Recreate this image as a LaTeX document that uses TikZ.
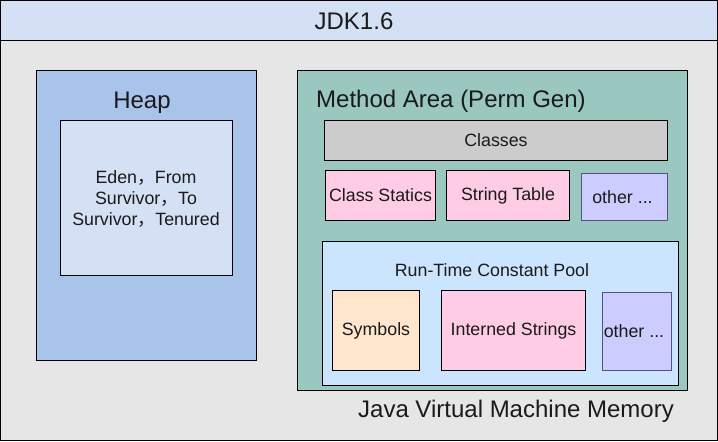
\documentclass[tikz,border=0pt]{standalone}
\usepackage{fontspec}
\setmainfont{Liberation Sans}
\newfontfamily\cjk{Noto Sans CJK SC}
\definecolor{hdr}{HTML}{D4E1F5}
\definecolor{bodybg}{HTML}{E6E6E6}
\definecolor{heapc}{HTML}{A9C4EB}
\definecolor{heapin}{HTML}{D4E1F5}
\definecolor{methc}{HTML}{9AC7BF}
\definecolor{clsc}{HTML}{CCCCCC}
\definecolor{pinkc}{HTML}{FFCCE6}
\definecolor{purpc}{HTML}{CCCCFF}
\definecolor{purpd}{HTML}{56517E}
\definecolor{poolc}{HTML}{CCE5FF}
\definecolor{symc}{HTML}{FFE6CC}
\definecolor{txt}{HTML}{1A1A1A}
\tikzset{
  frame/.style={draw=black, line width=1pt},
  bigtxt/.style={text=txt, inner sep=0pt, font=\fontsize{24}{27}\selectfont},
  smalltxt/.style={text=txt, inner sep=0pt, align=center, font=\fontsize{17.8}{21.5}\selectfont},
}
\begin{document}
\begin{tikzpicture}[x=1pt,y=-1pt]
\useasboundingbox (0,0) rectangle (718,442);
% outer frame
\fill[bodybg] (0.5,0.5) rectangle (717,440.5);
\fill[hdr] (0.5,0.5) rectangle (717,40);
\draw[frame] (0.5,0.5) rectangle (717,440.5);
\draw[frame] (0.5,40) -- (717,40);
\node[bigtxt] (jdk) at (354,21) {JDK1.6};
% heap
\node[frame, fill=heapc, anchor=north west, minimum width=220pt, minimum height=290pt, inner sep=0pt] (heap) at (36,70) {};
\node[bigtxt] (heaplbl) at (142,103) {Heap};
\node[frame, fill=heapin, anchor=north west, minimum width=172pt, minimum height=155pt, inner sep=0pt] (heapinner) at (60,120) {};
\node[smalltxt] (heaptxt) at (146,199) {Eden{\cjk ，}From\\Survivor{\cjk ，}To\\Survivor{\cjk ，}Tenured};
% method area
\node[frame, fill=methc, anchor=north west, minimum width=390pt, minimum height=320pt, inner sep=0pt] (meth) at (297,70) {};
\node[bigtxt, anchor=west] (methlbl) at (316,101) {Method Area (Perm Gen)};
\node[frame, fill=clsc, anchor=north west, minimum width=343pt, minimum height=40pt, inner sep=0pt] (classes) at (324,120) {};
\node[smalltxt] at (classes.center) {Classes};
\node[frame, fill=pinkc, anchor=north west, minimum width=110pt, minimum height=50pt, inner sep=0pt] (statics) at (325,170) {};
\node[smalltxt] at (statics.center) {Class Statics};
\node[frame, fill=pinkc, anchor=north west, minimum width=123pt, minimum height=50pt, inner sep=0pt] (strtab) at (446,170) {};
\node[smalltxt] at (strtab.center) {String Table};
\node[draw=purpd, line width=1pt, fill=purpc, anchor=north west, minimum width=86pt, minimum height=47pt, inner sep=0pt] (other1) at (581,173) {};
\node[smalltxt] at ([xshift=-2pt]other1.center) {other ...};
% run-time constant pool
\node[frame, fill=poolc, anchor=north west, minimum width=356pt, minimum height=144pt, inner sep=0pt] (pool) at (322,241) {};
\node[smalltxt] (poollbl) at (492,270) {Run-Time Constant Pool};
\node[frame, fill=symc, anchor=north west, minimum width=87pt, minimum height=80pt, inner sep=0pt] (sym) at (332,290) {};
\node[smalltxt] at (sym.center) {Symbols};
\node[frame, fill=pinkc, anchor=north west, minimum width=144pt, minimum height=80pt, inner sep=0pt] (intern) at (441,290) {};
\node[smalltxt] at (intern.center) {Interned Strings};
\node[draw=purpd, line width=1pt, fill=purpc, anchor=north west, minimum width=69pt, minimum height=78pt, inner sep=0pt] (other2) at (602,292) {};
\node[smalltxt] at ([xshift=-3pt]other2.center) {other ...};
% caption
\node[bigtxt] (jvm) at (516,411) {Java Virtual Machine Memory};
\end{tikzpicture}
\end{document}
